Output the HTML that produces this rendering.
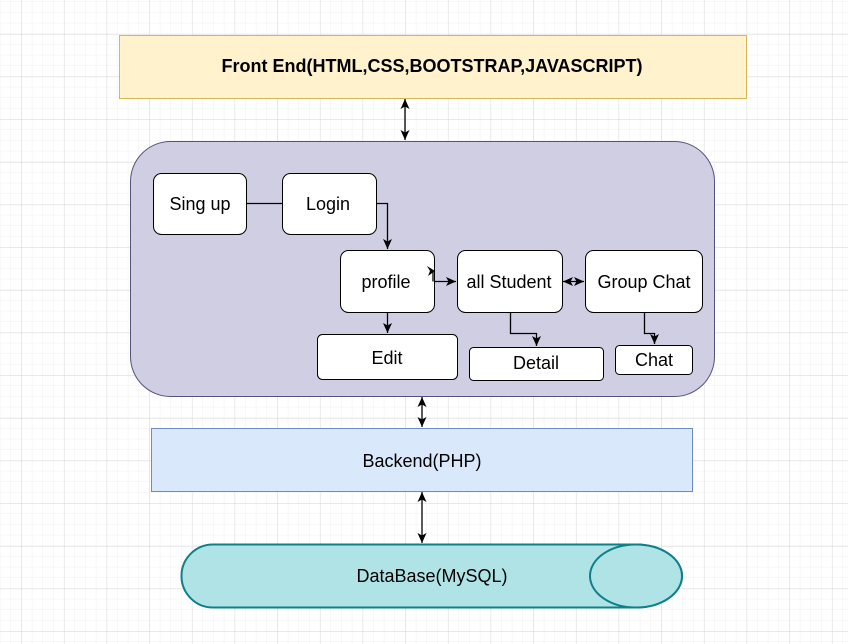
<!DOCTYPE html>
<html><head><meta charset="utf-8"><style>
html,body{margin:0;padding:0;background:#fff;}
svg{display:block;}
text{font-family:"Liberation Sans",Arial,sans-serif;fill:#000;}
</style></head><body>
<svg width="848" height="644" viewBox="0 0 848 644" xmlns="http://www.w3.org/2000/svg">
<defs>
<pattern id="minor" x="0.3" y="2" width="10.667" height="10.667" patternUnits="userSpaceOnUse">
<path d="M10.667 0V10.667M0 10.667H10.667" stroke="#f0f0f0" stroke-width="1" fill="none"/>
</pattern>
<pattern id="major" x="21.3" y="34" width="42.667" height="42.667" patternUnits="userSpaceOnUse">
<path d="M0 0V42.667M0 0H42.667" stroke="#dadada" stroke-width="1" fill="none"/>
</pattern>
<marker id="ah" markerWidth="12" markerHeight="12" refX="11" refY="6" orient="auto" markerUnits="userSpaceOnUse">
<path d="M1,1.5 L11,6 L1,10.5 L3.5,6 Z" fill="#000"/>
</marker>
<marker id="as" markerWidth="12" markerHeight="12" refX="1" refY="6" orient="auto" markerUnits="userSpaceOnUse">
<path d="M11,1.5 L1,6 L11,10.5 L8.5,6 Z" fill="#000"/>
</marker>
</defs>
<rect width="848" height="644" fill="url(#minor)"/>
<rect width="848" height="644" fill="url(#major)"/>

<rect x="119.5" y="35.5" width="627" height="63" fill="#fff2cc" stroke="#d6b656"/>
<text x="432" y="72" font-size="18" font-weight="bold" text-anchor="middle">Front End(HTML,CSS,BOOTSTRAP,JAVASCRIPT)</text>

<line x1="405" y1="99" x2="405" y2="140" stroke="#000" stroke-width="1.3" marker-start="url(#as)" marker-end="url(#ah)"/>

<rect x="130.5" y="141.5" width="584" height="255" rx="40" fill="#d0cee2" stroke="#56517e"/>

<g fill="#fff" stroke="#000">
<rect x="153.5" y="173.5" width="93" height="61" rx="8"/>
<rect x="282.5" y="173.5" width="94" height="61" rx="8"/>
<rect x="340.5" y="250.5" width="94" height="62" rx="8"/>
<rect x="457.5" y="250.5" width="105" height="62" rx="8"/>
<rect x="585.5" y="250.5" width="117" height="62" rx="8"/>
<rect x="317.5" y="334.5" width="140" height="45" rx="5"/>
<rect x="469.5" y="347.5" width="134" height="33" rx="4"/>
<rect x="615.5" y="345.5" width="77" height="29" rx="4"/>
</g>
<g font-size="18" text-anchor="middle">
<text x="200" y="210">Sing up</text>
<text x="328" y="210">Login</text>
<text x="386" y="288">profile</text>
<text x="509" y="288">all Student</text>
<text x="644" y="288">Group Chat</text>
<text x="387" y="364">Edit</text>
<text x="536" y="369">Detail</text>
<text x="654" y="366">Chat</text>
</g>
<g stroke="#000" fill="none" stroke-width="1.3">
<line x1="247" y1="203.5" x2="282" y2="203.5"/>
<path d="M377 203.5H387.5V249" marker-end="url(#ah)"/>
<path d="M387.5 313V333" marker-end="url(#ah)"/>
<path d="M434 281.5 H456" marker-end="url(#ah)"/>
<path d="M433 281.5 V271" />
<path d="M427 266 L435 271 L428 276 L430 271 Z" fill="#000" stroke="none"/>
<line x1="563" y1="281.5" x2="584" y2="281.5" marker-start="url(#as)" marker-end="url(#ah)"/>
<path d="M510.5 313V333.5H536.5V346" marker-end="url(#ah)"/>
<path d="M644.5 313V333.5H654.5V344" marker-end="url(#ah)"/>
<line x1="422" y1="397" x2="422" y2="427" marker-start="url(#as)" marker-end="url(#ah)"/>
<line x1="422" y1="492" x2="422" y2="543" marker-start="url(#as)" marker-end="url(#ah)"/>
</g>

<rect x="151.5" y="428.5" width="541" height="63" fill="#dae8fc" stroke="#6c8ebf"/>
<text x="422" y="467" font-size="18" text-anchor="middle">Backend(PHP)</text>

<path d="M213 544.5 H636 A46 31.5 0 0 1 636 607.5 H213 A31.5 31.5 0 0 1 213 544.5 Z" fill="#b0e3e6" stroke="#0e8088" stroke-width="2"/>
<ellipse cx="636" cy="576" rx="46" ry="31.5" fill="#b0e3e6" stroke="#0e8088" stroke-width="2"/>
<text x="432" y="582" font-size="18" text-anchor="middle">DataBase(MySQL)</text>
</svg>
</body></html>
